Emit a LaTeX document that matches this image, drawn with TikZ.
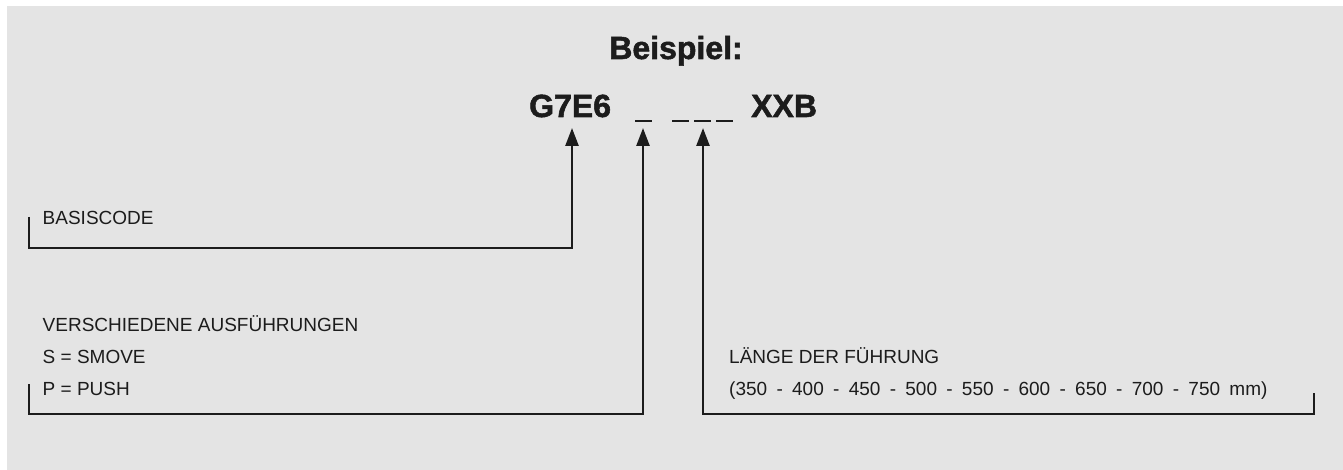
\documentclass[tikz,border=0pt]{standalone}
\usepackage{fontspec}
\setmainfont{Liberation Sans}
\newfontfamily\heavyfont[BoldFeatures={FakeBold=1.6}]{Liberation Sans}
\usetikzlibrary{arrows.meta}
\definecolor{bggray}{HTML}{E4E4E4}
\definecolor{ink}{HTML}{1C1C1C}
\newlength{\widesp}
\tikzset{
  lbl/.style={anchor=base west, inner sep=0pt, text=ink, font=\fontsize{19}{22}\selectfont},
  big/.style={anchor=base west, inner sep=0pt, text=ink, font=\heavyfont\fontsize{32}{36}\selectfont\bfseries},
  slot/.style={inner sep=0pt, minimum width=17pt, minimum height=2pt, fill=ink},
  conn/.style={draw=ink, line width=2.6pt},
  arr/.style={conn, -{Triangle[length=18pt,width=13pt]}},
}
\begin{document}
\begin{tikzpicture}[x=1pt,y=-1pt]
\useasboundingbox (0,0) rectangle (1343,470);
\fill[bggray] (7,6) rectangle (1343,470);
% title
\node[big, anchor=base] (title) at (676,59) {Beispiel:};
\node[big] (code) at (529,117) {G7E6};
\node[slot] (s1) at (643,121) {};
\node[slot] (s2) at (680.5,121) {};
\node[slot] (s3) at (702.5,121) {};
\node[slot] (s4) at (724.5,121) {};
\node[big] (suffix) at (751,117) {XXB};
% labels
\node[lbl] (basis) at (42.5,225) {BASISCODE};
\node[lbl] (var1) at (42.5,331) {VERSCHIEDENE AUSFÜHRUNGEN};
\node[lbl] (var2) at (42.5,363) {S = SMOVE};
\node[lbl] (var3) at (42.5,395) {P = PUSH};
\node[lbl] (len1) at (729,363) {LÄNGE DER FÜHRUNG};
\node[lbl] (len2) at (729,395) {\setlength{\widesp}{9.3pt}\spaceskip=\widesp (350 - 400 - 450 - 500 - 550 - 600 - 650 - 700 - 750 mm)};
% connector end points
\coordinate (a1) at (572,128);
\coordinate (a2) at (s1 |- a1);
\coordinate (a3) at (703,128);
\coordinate (k1) at (29,217);
\coordinate (k2) at (29,384);
\coordinate (k3) at (1314,393);
\coordinate (b1) at (29,248);
\coordinate (b2) at (29,414);
\coordinate (b3) at (1314,414);
% connectors
\draw[arr] (k1) -- (b1) -| (a1);
\draw[arr] (k2) -- (b2) -| (a2);
\draw[arr] (k3) -- (b3) -| (a3);
\end{tikzpicture}
\end{document}
